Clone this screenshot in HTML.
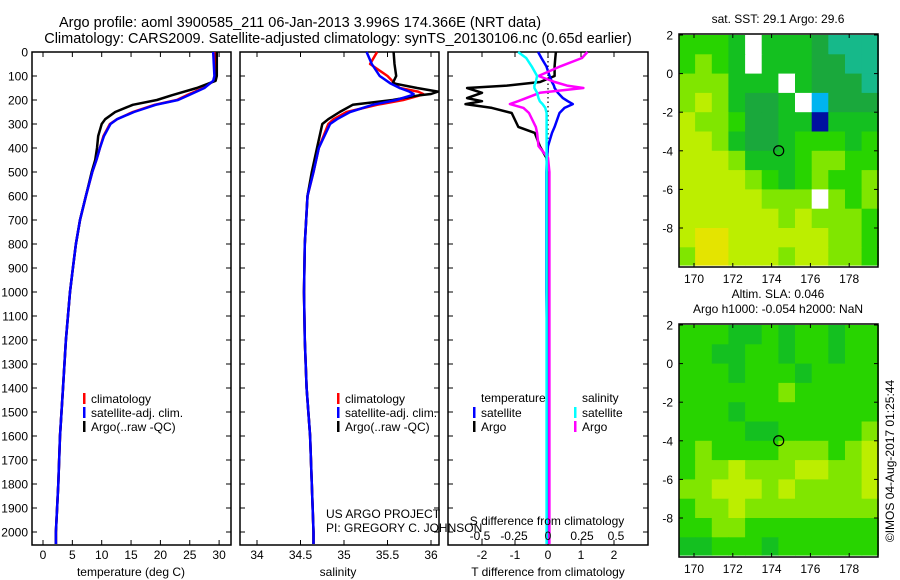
<!DOCTYPE html>
<html><head><meta charset="utf-8"><style>
html,body{margin:0;padding:0;background:#fff;}
svg{display:block;font-family:"Liberation Sans",sans-serif;}
</style></head><body>
<svg id="fig" width="900" height="580" viewBox="0 0 900 580" xmlns="http://www.w3.org/2000/svg">
<rect x="0" y="0" width="900" height="580" fill="#fff"/>
<text x="300" y="27" font-size="14.5" text-anchor="middle">Argo profile: aoml 3900585_211 06-Jan-2013 3.996S 174.366E (NRT data)</text>
<text x="338" y="43" font-size="14.5" text-anchor="middle">Climatology: CARS2009. Satellite-adjusted climatology: synTS_20130106.nc (0.65d earlier)</text>
<g id="plots"></g>
</svg>
<script>
// ---- data ----
const tDepth = [0,50,100,120,150,180,200,220,250,280,300,350,400,450,500,600,700,800,900,1000,1200,1400,1600,1800,2000,2050];
const tempArgo = [29.6,29.6,29.6,29.4,26.2,22.0,19.4,15.3,12.3,10.6,10.0,9.4,9.2,8.9,8.3,7.3,6.3,5.6,5.1,4.6,3.9,3.4,2.9,2.6,2.2,2.2];
const tempClim = [29.3,29.3,29.3,29.1,27.3,24.5,22.8,19.0,15.3,12.6,11.4,10.3,9.7,9.1,8.4,7.3,6.3,5.6,5.1,4.6,3.9,3.4,2.9,2.6,2.2,2.2];
const tempSat  = [29.0,29.1,29.2,29.0,27.5,24.8,23.0,19.2,15.5,12.6,11.5,10.4,9.7,9.1,8.4,7.3,6.3,5.6,5.1,4.6,3.9,3.4,2.9,2.6,2.2,2.2];
const sDepth = [0,50,100,130,150,165,175,180,200,220,250,280,300,400,500,600,800,1000,1200,1400,1600,1800,2000,2050];
const salArgo = [35.57,35.58,35.6,35.56,35.84,36.08,36.0,35.87,35.56,35.1,34.95,34.82,34.75,34.69,34.63,34.58,34.55,34.54,34.55,34.57,34.61,34.63,34.65,34.65];
const salClim = [35.38,35.3,35.5,35.58,35.64,35.85,35.91,35.88,35.68,35.38,35.03,34.88,34.82,34.71,34.65,34.58,34.55,34.54,34.55,34.57,34.61,34.63,34.65,34.65];
const salSat  = [35.26,35.32,35.41,35.53,35.64,35.75,35.8,35.78,35.6,35.33,35.07,34.92,34.84,34.71,34.65,34.58,34.55,34.54,34.55,34.57,34.61,34.63,34.65,34.65];
const dDepth = [0,25,60,100,125,140,150,170,192,205,217,233,254,312,337,392,441,500,700,1000,1500,2050];
const dTArgo = [0.24,0.22,0.2,0.2,-0.24,-1.25,-2.45,-2.0,-2.45,-2.0,-2.5,-1.7,-1.1,-0.9,-0.4,-0.25,-0.05,0.0,0.0,0.0,0.0,0.0];
const dTSat  = [-0.3,-0.2,-0.05,0.05,0.12,0.18,0.2,0.3,0.45,0.6,0.75,0.5,0.35,0.2,0.12,0.0,-0.03,-0.05,-0.05,-0.05,0.0,0.0];
const dSArgo = [0.29,0.25,0.09,-0.07,0.05,0.14,0.26,-0.06,-0.16,-0.22,-0.28,-0.18,-0.14,-0.09,-0.08,-0.07,0.0,0.01,0.01,0.01,0.01,0.01];
const dSSat  = [-0.22,-0.16,-0.12,-0.08,-0.09,-0.1,-0.1,-0.08,-0.07,-0.06,-0.04,-0.02,-0.01,-0.01,-0.01,-0.01,-0.01,-0.01,-0.01,-0.01,-0.01,-0.01];
const depthTicks = [0,100,200,300,400,500,600,700,800,900,1000,1100,1200,1300,1400,1500,1600,1700,1800,1900,2000];
const tempTicks = [0,5,10,15,20,25,30];
const salTicks = [34,34.5,35,35.5,36];
const salTickLabels = ["34","34.5","35","35.5","36"];
const dTTicks = [-2,-1,0,1,2];
const dSTicks = [-0.5,-0.25,0,0.25,0.5];
const dSTickLabels = ["-0.5","-0.25","0","0.25","0.5"];
const lonTicks = [170,172,174,176,178];
const latTicks = [2,0,-2,-4,-6,-8];
const argoLon = 174.366, argoLat = -3.996;
const sstGrid = [
 [3,3,3,2,9,2,2,2,1,0,0,0],
 [3,4,3,2,9,2,2,2,1,1,0,0],
 [4,4,4,2,2,2,9,2,1,1,1,0],
 [4,5,4,2,1,1,2,9,7,1,1,1],
 [5,4,4,3,1,1,2,2,8,2,2,2],
 [5,5,4,2,1,1,2,3,3,3,2,3],
 [5,5,5,4,2,2,2,3,4,4,3,3],
 [5,5,5,5,4,3,2,3,4,3,3,4],
 [5,5,5,5,5,4,4,4,9,4,3,4],
 [5,5,5,5,5,5,4,5,4,4,4,3],
 [5,6,6,5,5,5,5,5,5,4,4,3],
 [4,6,6,5,5,5,4,5,5,4,4,3]];
const slaGrid = [
 [3,3,3,2,2,3,2,3,3,2,3,3],
 [3,3,2,2,3,3,2,3,3,2,3,3],
 [3,3,3,2,3,3,3,2,3,3,3,3],
 [3,3,3,3,3,3,4,3,3,3,3,3],
 [3,3,3,2,3,3,3,3,3,3,3,3],
 [3,3,3,3,2,2,3,3,3,3,3,4],
 [3,4,3,3,3,3,4,4,4,3,4,5],
 [3,4,4,5,4,4,4,5,5,4,4,5],
 [4,4,5,5,5,4,5,4,4,4,4,5],
 [3,4,4,5,4,4,4,4,4,4,4,4],
 [3,3,4,4,3,3,3,3,3,3,3,3],
 [2,2,3,3,3,2,3,3,3,3,3,3]];
const palette = ["#16b98a","#1aa83c","#14c020","#28d400","#80e600","#bcee00","#e4e400","#00b4f0","#0010a0","#ffffff"];

// ---- helpers ----
const NS="http://www.w3.org/2000/svg";
const root=document.getElementById('plots');
function mk(tag,attrs,parent){const e=document.createElementNS(NS,tag);for(const k in attrs)e.setAttribute(k,attrs[k]);(parent||root).appendChild(e);return e;}
const yD = d => 52 + d*0.24;
const P1={x0:32,x1:231}, P2={x0:240,x1:439}, P3={x0:448,x1:648};
const xT = t => 43 + t*5.87;
const xS = s => 257 + (s-34)*87;
const xdT = v => 548 + v*33;
const xdS = v => 548 + v*136;
const Y0=52, Y1=545;

function frame(p,name){
  const r=mk('rect',{x:p.x0,y:Y0,width:p.x1-p.x0,height:Y1-Y0,fill:'none',stroke:'#000','stroke-width':1.5});
  
  
  depthTicks.forEach(d=>{
    mk('line',{x1:p.x0,x2:p.x0+5,y1:yD(d),y2:yD(d),stroke:'#000'});
    mk('line',{x1:p.x1-5,x2:p.x1,y1:yD(d),y2:yD(d),stroke:'#000'});
  });
}
function xticks(vals,fx){
  vals.forEach(v=>{const x=fx(v);
    mk('line',{x1:x,x2:x,y1:Y0,y2:Y0+5,stroke:'#000'});
    mk('line',{x1:x,x2:x,y1:Y1-5,y2:Y1,stroke:'#000'});});
}
function profile(depths,vals,fx,color,name,w){
  const pts=depths.map((d,i)=>fx(vals[i]).toFixed(1)+','+yD(d).toFixed(1)).join(' ');
  const l=mk('polyline',{points:pts,fill:'none',stroke:color,'stroke-width':w||2.5,'stroke-linejoin':'round'});
  
  
}
function txt(x,y,s,size,anchor,name){
  const t=mk('text',{x:x,y:y,'font-size':size||12,'text-anchor':anchor||'start'});
  t.textContent=s;
  
  
  return t;
}
function legItem(bx,y,color,label,name){
  mk('rect',{x:bx,y:y-10,width:2.5,height:11,fill:color});
  txt(bx+8,y,label,12,'start',name);
}

// ---- panel 1: temperature ----
frame(P1,'temperature-panel');
xticks(tempTicks,xT);
depthTicks.forEach(d=>txt(28,yD(d)+4.5,String(d),12,'end','depth-tick-label'));
tempTicks.forEach(t=>txt(xT(t),559,String(t),12,'middle','temperature-tick-label'));
txt(131,576,'temperature (deg C)',12,'middle','temperature-axis-title');
profile(tDepth,tempClim,xT,'#ff0000','temperature-climatology-line');
profile(tDepth,tempArgo,xT,'#000000','temperature-argo-line');
profile(tDepth,tempSat,xT,'#0000ff','temperature-satellite-line');
legItem(83,403,'#ff0000','climatology','legend-climatology');
legItem(83,417,'#0000ff','satellite-adj. clim.','legend-satellite-adj');
legItem(83,431,'#000000','Argo(..raw -QC)','legend-argo');

// ---- panel 2: salinity ----
frame(P2,'salinity-panel');
xticks(salTicks,xS);
salTicks.forEach((s,i)=>txt(xS(s),559,salTickLabels[i],12,'middle','salinity-tick-label'));
txt(338,576,'salinity',12,'middle','salinity-axis-title');
profile(sDepth,salClim,xS,'#ff0000','salinity-climatology-line');
profile(sDepth,salArgo,xS,'#000000','salinity-argo-line');
profile(sDepth,salSat,xS,'#0000ff','salinity-satellite-line');
legItem(337,403,'#ff0000','climatology','legend2-climatology');
legItem(337,417,'#0000ff','satellite-adj. clim.','legend2-satellite-adj');
legItem(337,431,'#000000','Argo(..raw -QC)','legend2-argo');
txt(326,518,'US ARGO PROJECT',12,'start','project-credit');
txt(326,532,'PI: GREGORY C. JOHNSON',12,'start','pi-credit');

// ---- panel 3: differences ----
frame(P3,'difference-panel');
xticks(dTTicks,xdT);
mk('line',{x1:548,x2:548,y1:Y0,y2:Y1,stroke:'#000','stroke-dasharray':'1.5,3','stroke-width':1.2});
profile(dDepth,dTArgo,xdT,'#000000','tdiff-argo-line');
profile(dDepth,dTSat,xdT,'#0000ff','tdiff-satellite-line');
profile(dDepth,dSArgo,xdS,'#ff00ff','sdiff-argo-line');
profile(dDepth,dSSat,xdS,'#00ffff','sdiff-satellite-line');
dTTicks.forEach(v=>txt(xdT(v),559,String(v),12,'middle','tdiff-tick-label'));
txt(548,576,'T difference from climatology',12,'middle','tdiff-axis-title');
txt(547,525,'S difference from climatology',12,'middle','sdiff-axis-title');
dSTicks.forEach((v,i)=>txt(xdS(v),540,dSTickLabels[i],12,'middle','sdiff-tick-label'));
txt(481,402,'temperature',12,'start','legend3-temperature-heading');
txt(582,402,'salinity',12,'start','legend3-salinity-heading');
legItem(473,417,'#0000ff','satellite','legend3-t-satellite');
legItem(473,431,'#000000','Argo','legend3-t-argo');
legItem(574,417,'#00ffff','satellite','legend3-s-satellite');
legItem(574,431,'#ff00ff','Argo','legend3-s-argo');

// ---- maps ----
const MX0=679, MX1=878;
const lonX = lon => 694 + (lon-170)*19.4;
function drawMap(grid,top,bottom,name,title1,title2){
  const latY = lat => top+1 + (2-lat)*19.3;
  const g=mk('g',{});
  
  
  const nr=grid.length, nc=grid[0].length;
  const lon0=169.2, lon1=179.5, dl=(lon1-lon0)/nc;
  for(let r=0;r<nr;r++)for(let c=0;c<nc;c++){
    const x=lonX(lon0+c*dl), x2=lonX(lon0+(c+1)*dl);
    const y=latY(2-r), y2=latY(2-(r+1));
    const cell=mk('rect',{x:x.toFixed(1),y:y.toFixed(1),width:(x2-x+0.6).toFixed(1),height:(Math.min(y2,bottom-2)-y+0.6).toFixed(1),fill:palette[grid[r][c]]},g);
    
    
  }
  const fr=mk('rect',{x:MX0,y:top,width:MX1-MX0,height:bottom-top,fill:'none',stroke:'#000','stroke-width':1.5});
  
  
  lonTicks.forEach(l=>{const x=lonX(l);
    mk('line',{x1:x,x2:x,y1:top,y2:top+4,stroke:'#000'});
    mk('line',{x1:x,x2:x,y1:bottom-4,y2:bottom,stroke:'#000'});
    txt(x,bottom+16,String(l),12,'middle','longitude-tick-label');});
  latTicks.forEach(l=>{const y=latY(l);
    mk('line',{x1:MX0,x2:MX0+4,y1:y,y2:y,stroke:'#000'});
    mk('line',{x1:MX1-4,x2:MX1,y1:y,y2:y,stroke:'#000'});
    txt(673,y+4.5,String(l),12,'end','latitude-tick-label');});
  const m=mk('circle',{cx:lonX(argoLon),cy:latY(argoLat),r:5,fill:'none',stroke:'#000','stroke-width':1.2});
  
  
  if(title2){txt(778,top-26,title1,12,'middle',name+'-title');txt(778,top-11,title2,12,'middle',name+'-subtitle');}
  else txt(778,top-11,title1,12,'middle',name+'-title');
}
drawMap(sstGrid,34,267,'sst-map','sat. SST: 29.1 Argo: 29.6');
drawMap(slaGrid,324,557,'sla-map','Altim. SLA: 0.046','Argo h1000: -0.054 h2000: NaN');

const cr=txt(0,0,'©IMOS 04-Aug-2017 01:25:44',12,'middle','copyright-timestamp');
cr.setAttribute('transform','translate(894,461) rotate(-90)');
</script>
</body></html>
